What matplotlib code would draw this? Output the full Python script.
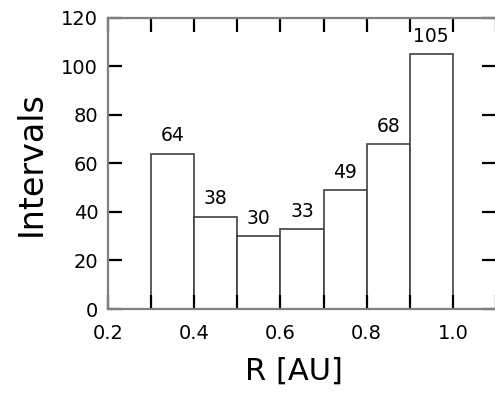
import matplotlib.pyplot as plt
from matplotlib.ticker import MultipleLocator

# Histogram of interval counts per heliocentric distance bin
bin_left = [0.3, 0.4, 0.5, 0.6, 0.7, 0.8, 0.9]
bin_width = 0.1
counts = [64, 38, 30, 33, 49, 68, 105]

plt.rcParams["font.family"] = ["DejaVu Sans"]

fig = plt.figure(figsize=(4.95, 4.05), dpi=100)
ax = fig.add_axes([0.218, 0.237, 0.784, 0.719])

bars = ax.bar(bin_left, counts, width=bin_width, align="edge",
              facecolor="white", edgecolor="#404040", linewidth=1.2)

# Count printed above each bar
for rect, n in zip(bars, counts):
    ax.annotate(str(n), (rect.get_x() + rect.get_width() / 2, rect.get_height()),
                xytext=(0, 6), textcoords="offset points",
                ha="center", va="bottom", fontsize=13.5)

ax.set_xlim(0.2, 1.1)
ax.set_ylim(0, 120)
ax.xaxis.set_minor_locator(MultipleLocator(0.1))
ax.yaxis.set_major_locator(MultipleLocator(20))
ax.set_xticks([0.2, 0.4, 0.6, 0.8, 1.0])
ax.set_xticklabels(["0.2", "0.4", "0.6", "0.8", "1.0"])

for side in ax.spines.values():
    side.set_color("#808080")
    side.set_linewidth(1.6)
# frame runs off the right edge of the figure
ax.spines["right"].set_visible(False)

ax.tick_params(which="both", direction="in", top=True, right=True,
               length=10, width=1.6, color="black")
ax.tick_params(axis="x", labelsize=14, pad=11)
ax.tick_params(axis="y", labelsize=14, pad=7)

ax.set_xlabel("R [AU]", fontsize=22)
ax.set_ylabel("Intervals", fontsize=24)
ax.xaxis.set_label_coords(0.48, -0.165)
ax.yaxis.set_label_coords(-0.155, 0.5)

fig.savefig("out.png", dpi=100)
